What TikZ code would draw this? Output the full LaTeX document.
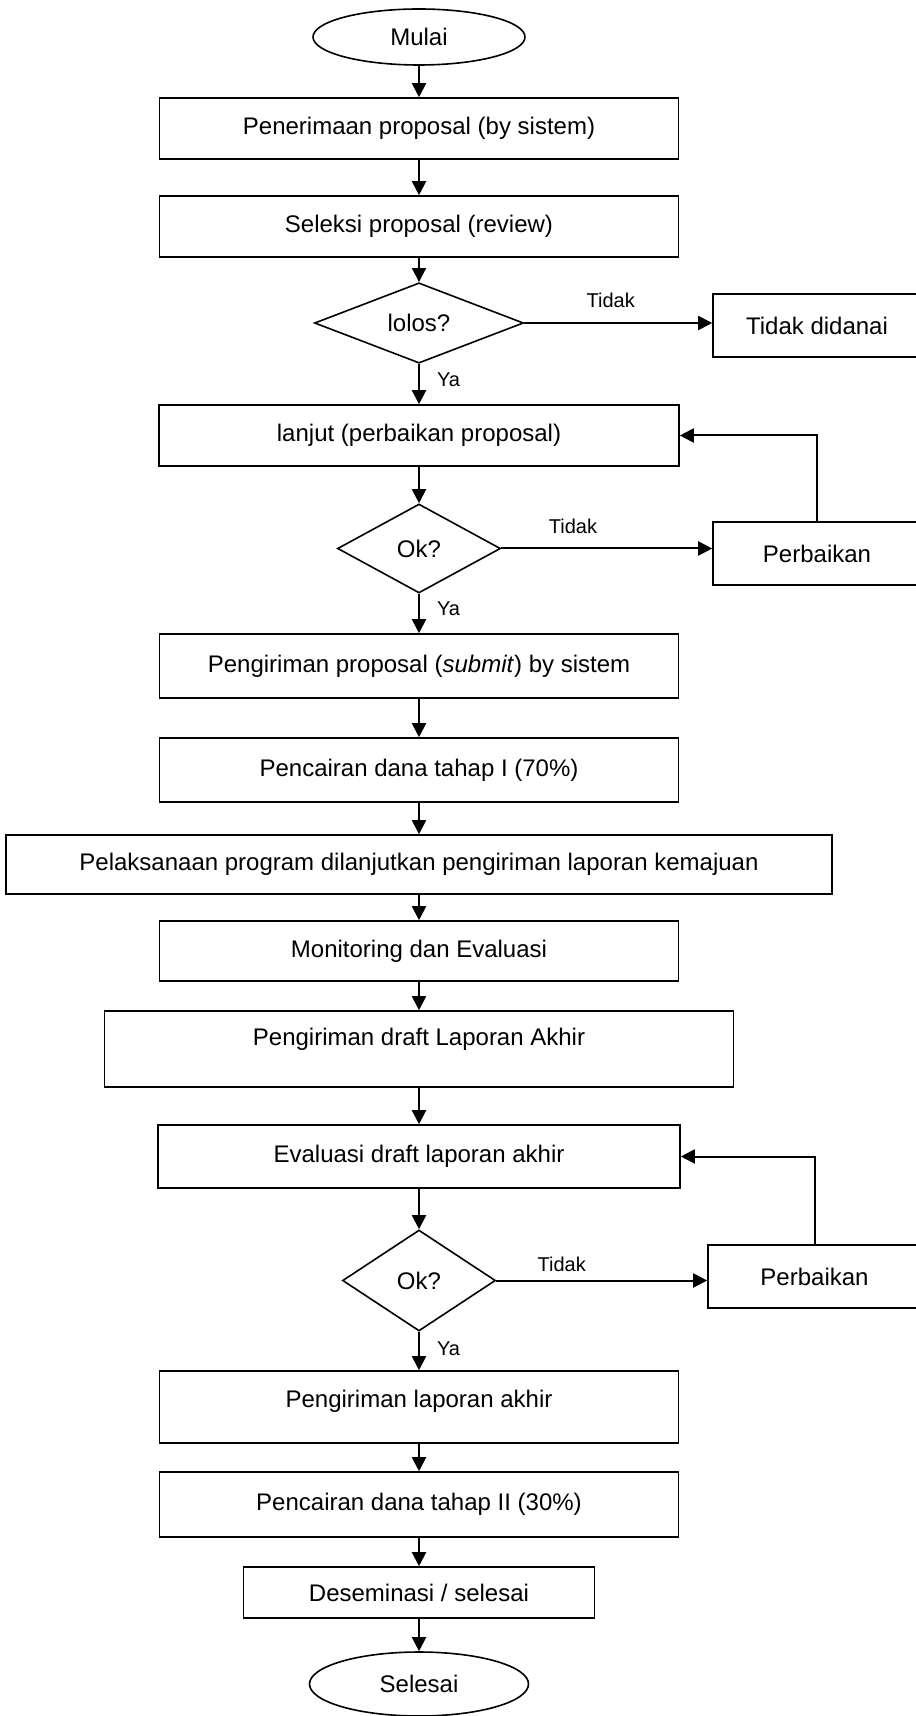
\documentclass[tikz,border=0pt]{standalone}
\usepackage{fontspec}
\setmainfont{Liberation Sans}
\usetikzlibrary{shapes.geometric,arrows.meta}
\begin{document}
\begin{tikzpicture}[x=0.5pt, y=-0.5pt, font=\fontsize{12}{14}\selectfont,
              box/.style={draw, rectangle, line width=0.8pt, inner sep=0pt,
              minimum width=259.5pt, minimum height=31pt},
              cond/.style={draw, diamond, line width=0.8pt, inner sep=0pt},
              term/.style={draw, ellipse, line width=0.8pt, inner sep=0pt},
              lift/.style={text height=9pt, text depth=#1},
              lbl/.style={font=\fontsize{10}{12}\selectfont, inner sep=0pt},
              arr/.style={line width=1pt, -{Triangle[length=7pt, width=7pt]}}]
                \useasboundingbox (0,0) rectangle (915,1716);
                % main column
                \node[term, minimum width=106pt, minimum height=28pt] (mulai) at (419,37) {Mulai};
                \node[box, minimum height=30.5pt] (terima) at (419,128.5) {Penerimaan proposal (by sistem)};
                \node[box, minimum height=30.5pt] (seleksi) at (419,226.5) {Seleksi proposal (review)};
                \node[cond, minimum width=104.5pt, minimum height=40pt] (lolos) at (419,323) {lolos?};
                \node[box, minimum width=260pt, minimum height=30.5pt] (lanjut) at (419,435.5) {lanjut (perbaikan proposal)};
                \node[cond, minimum width=81.5pt, minimum height=44.5pt] (ok1) at (419,548.5) {Ok?};
                \node[box, minimum height=32pt] (submit) at (419,666) {Pengiriman proposal (\textit{submit}) by sistem};
                \node[box, minimum height=32pt] (danaI) at (419,770) {Pencairan dana tahap I (70\%)};
                \node[box, minimum width=413pt, minimum height=29.5pt] (laksana) at (419,864.5) {Pelaksanaan program dilanjutkan pengiriman laporan kemajuan};
                \node[box, minimum height=30pt] (monev) at (419,951) {Monitoring dan Evaluasi};
                \node[box, lift=12.4pt, minimum width=314.5pt, minimum height=38pt] (draft) at (419,1049) {Pengiriman draft Laporan Akhir};
                \node[box, minimum width=261pt, minimum height=31.5pt] (evaluasi) at (419,1156.5) {Evaluasi draft laporan akhir};
                \node[cond, minimum width=76.5pt, minimum height=50.5pt] (ok2) at (419,1280.5) {Ok?};
                \node[box, lift=8.4pt, minimum height=36pt] (akhir) at (419,1407) {Pengiriman laporan akhir};
                \node[box, minimum height=32.5pt] (danaII) at (419,1504.5) {Pencairan dana tahap II (30\%)};
                \node[box, minimum width=175.5pt, minimum height=25.5pt] (desem) at (419,1592.5) {Deseminasi / selesai};
                \node[term, minimum width=109.5pt, minimum height=32pt] (selesai) at (419,1684) {Selesai};
                % side boxes
                \node[box, minimum width=104pt, minimum height=31.5pt] (tolak) at (817,325.5) {Tidak didanai};
                \node[box, minimum width=104pt, minimum height=31.5pt] (perb1) at (817,553.5) {Perbaikan};
                \node[box, minimum width=106.5pt, minimum height=31.5pt] (perb2) at (814.5,1276.5) {Perbaikan};
                % straight flow
                \foreach \a/\b in {mulai/terima, terima/seleksi, seleksi/lolos, lanjut/ok1,
                    submit/danaI, danaI/laksana, laksana/monev, monev/draft,
                    draft/evaluasi, evaluasi/ok2, akhir/danaII, danaII/desem, desem/selesai}{
                    \draw[arr] (\a) -- (\b);
                };
                % decisions
                \draw[arr] (lolos) -- node[lbl, right=8.5pt, pos=0.4] (ya1) {Ya} (lanjut);
                \draw[arr] (ok1) -- node[lbl, right=8.5pt, pos=0.37] (ya2) {Ya} (submit);
                \draw[arr] (ok2) -- node[lbl, right=8.5pt, pos=0.45] (ya3) {Ya} (akhir);
                \draw[arr] (lolos.east) -- node[lbl, above=7pt, pos=0.46] (tdk1) {Tidak} (lolos.east -| tolak.west);
                \draw[arr] (ok1.east) -- node[lbl, above=7pt, pos=0.34] (tdk2) {Tidak} (ok1.east -| perb1.west);
                \draw[arr] (ok2.east) -- node[lbl, above=4pt, pos=0.31] (tdk3) {Tidak} (ok2.east -| perb2.west);
                % loops back
                \draw[arr] (perb1.north) |- (lanjut.east);
                \draw[arr] (perb2.north) |- (evaluasi.east);
            \end{tikzpicture}
\end{document}
